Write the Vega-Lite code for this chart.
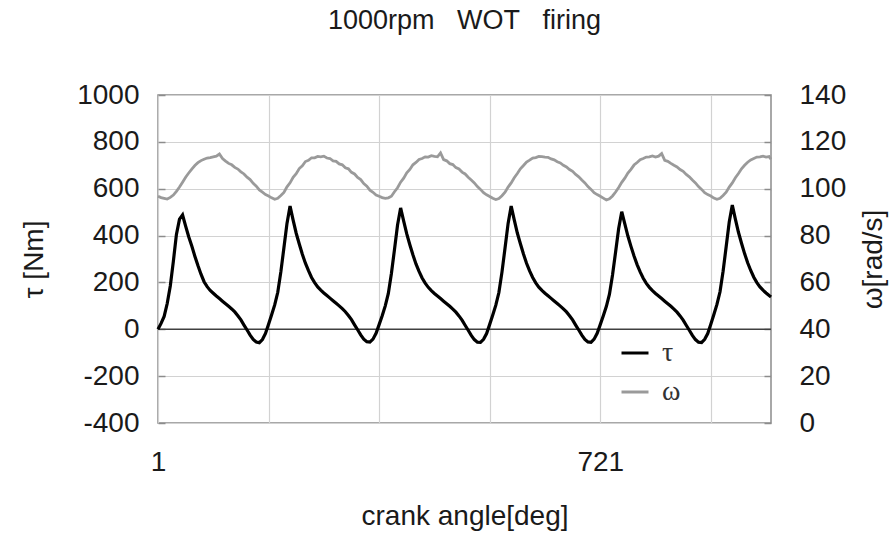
{
  "$schema": "https://vega.github.io/schema/vega-lite/v6.json",
  "width": 613,
  "height": 328,
  "autosize": "none",
  "padding": {"left": 158, "top": 95, "right": 122, "bottom": 112},
  "background": "white",
  "config": {
    "view": {"stroke": "#8c8c8c", "strokeWidth": 1.5},
    "font": "Liberation Sans",
    "axis": {"labelFont": "Liberation Sans", "titleFont": "Liberation Sans", "labelColor": "#1a1a1a", "titleColor": "#1a1a1a", "titleFontWeight": "normal"}
  },
  "title": {"text": "1000rpm\u00a0\u00a0\u00a0WOT\u00a0\u00a0\u00a0firing", "fontSize": 27, "font": "Liberation Sans", "fontWeight": "normal", "color": "#1a1a1a", "offset": 46, "anchor": "middle"},
  "data": {"values": [
    {"a":1,"t":0,"w":96.8},{"a":6,"t":25,"w":96.2},{"a":11,"t":55,"w":95.9},{"a":16,"t":110,"w":95.6},{"a":21,"t":185,"w":96.3},{"a":26,"t":290,"w":97.3},{"a":31,"t":405,"w":98.9},{"a":36,"t":470,"w":100.7},{"a":41,"t":488,"w":102.8},{"a":46,"t":440,"w":104.9},{"a":51,"t":395,"w":106.7},{"a":56,"t":355,"w":108.4},{"a":61,"t":312,"w":109.9},{"a":66,"t":272,"w":111.1},{"a":71,"t":235,"w":112.0},{"a":76,"t":203,"w":112.6},{"a":81,"t":182,"w":113.1},{"a":86,"t":166,"w":113.3},{"a":91,"t":154,"w":113.6},{"a":96,"t":142,"w":113.9},{"a":101,"t":131,"w":114.8},{"a":106,"t":120,"w":112.9},{"a":111,"t":109,"w":111.8},{"a":116,"t":98,"w":110.8},{"a":121,"t":87,"w":110.2},{"a":126,"t":74,"w":109.1},{"a":131,"t":58,"w":108.4},{"a":136,"t":40,"w":107.2},{"a":141,"t":18,"w":106.3},{"a":146,"t":-3,"w":104.9},{"a":151,"t":-25,"w":103.9},{"a":156,"t":-43,"w":102.3},{"a":161,"t":-54,"w":101.1},{"a":166,"t":-57,"w":99.5},{"a":171,"t":-44,"w":98.5},{"a":176,"t":-18,"w":97.5},
    {"a":181,"t":22,"w":96.9},{"a":186,"t":62,"w":96.1},{"a":191,"t":104,"w":95.5},{"a":196,"t":158,"w":95.9},{"a":201,"t":245,"w":97.1},{"a":206,"t":348,"w":98.4},{"a":211,"t":452,"w":100.8},{"a":216,"t":526,"w":102.5},{"a":221,"t":466,"w":104.9},{"a":226,"t":410,"w":106.4},{"a":231,"t":364,"w":108.6},{"a":236,"t":320,"w":109.8},{"a":241,"t":282,"w":111.6},{"a":246,"t":250,"w":112.1},{"a":251,"t":221,"w":113.2},{"a":256,"t":199,"w":113.2},{"a":261,"t":181,"w":113.8},{"a":266,"t":167,"w":113.6},{"a":271,"t":155,"w":113.9},{"a":276,"t":144,"w":113.1},{"a":281,"t":133,"w":112.9},{"a":286,"t":122,"w":111.9},{"a":291,"t":111,"w":111.7},{"a":296,"t":100,"w":110.6},{"a":301,"t":88,"w":110.2},{"a":306,"t":75,"w":108.9},{"a":311,"t":59,"w":108.5},{"a":316,"t":41,"w":107.0},{"a":321,"t":19,"w":106.3},{"a":326,"t":-2,"w":104.8},{"a":331,"t":-24,"w":103.9},{"a":336,"t":-42,"w":102.2},{"a":341,"t":-53,"w":101.1},{"a":346,"t":-55,"w":99.4},{"a":351,"t":-42,"w":98.5},{"a":356,"t":-17,"w":97.3},
    {"a":361,"t":20,"w":96.8},{"a":366,"t":58,"w":96.2},{"a":371,"t":100,"w":95.9},{"a":376,"t":153,"w":96.1},{"a":381,"t":238,"w":96.8},{"a":386,"t":340,"w":98.7},{"a":391,"t":445,"w":100.4},{"a":396,"t":518,"w":102.8},{"a":401,"t":462,"w":104.5},{"a":406,"t":407,"w":106.8},{"a":411,"t":361,"w":108.2},{"a":416,"t":318,"w":110.2},{"a":421,"t":279,"w":111.2},{"a":426,"t":247,"w":112.5},{"a":431,"t":219,"w":112.9},{"a":436,"t":197,"w":113.6},{"a":441,"t":179,"w":113.5},{"a":446,"t":165,"w":114.1},{"a":451,"t":153,"w":113.8},{"a":456,"t":142,"w":113.6},{"a":461,"t":131,"w":115.3},{"a":466,"t":120,"w":112.4},{"a":471,"t":109,"w":111.9},{"a":476,"t":98,"w":110.7},{"a":481,"t":86,"w":110.3},{"a":486,"t":73,"w":109.0},{"a":491,"t":57,"w":108.4},{"a":496,"t":39,"w":107.1},{"a":501,"t":17,"w":106.3},{"a":506,"t":-4,"w":104.9},{"a":511,"t":-26,"w":103.7},{"a":516,"t":-44,"w":102.5},{"a":521,"t":-55,"w":100.9},{"a":526,"t":-56,"w":99.7},{"a":531,"t":-43,"w":98.3},{"a":536,"t":-18,"w":97.4},
    {"a":541,"t":21,"w":96.7},{"a":546,"t":61,"w":95.9},{"a":551,"t":103,"w":95.4},{"a":556,"t":157,"w":95.8},{"a":561,"t":244,"w":97.0},{"a":566,"t":347,"w":98.5},{"a":571,"t":452,"w":100.7},{"a":576,"t":526,"w":102.5},{"a":581,"t":467,"w":104.7},{"a":586,"t":411,"w":106.5},{"a":591,"t":365,"w":108.5},{"a":596,"t":321,"w":109.9},{"a":601,"t":282,"w":111.4},{"a":606,"t":249,"w":112.2},{"a":611,"t":221,"w":113.1},{"a":616,"t":198,"w":113.3},{"a":621,"t":180,"w":113.8},{"a":626,"t":166,"w":113.7},{"a":631,"t":154,"w":113.5},{"a":636,"t":143,"w":113.4},{"a":641,"t":132,"w":112.7},{"a":646,"t":121,"w":112.3},{"a":651,"t":110,"w":111.5},{"a":656,"t":99,"w":111.0},{"a":661,"t":87,"w":110.0},{"a":666,"t":74,"w":109.3},{"a":671,"t":58,"w":108.2},{"a":676,"t":40,"w":107.4},{"a":681,"t":18,"w":106.1},{"a":686,"t":-3,"w":105.1},{"a":691,"t":-25,"w":103.7},{"a":696,"t":-43,"w":102.5},{"a":701,"t":-54,"w":100.9},{"a":706,"t":-56,"w":99.7},{"a":711,"t":-42,"w":98.3},{"a":716,"t":-17,"w":97.5},
    {"a":721,"t":20,"w":96.8},{"a":726,"t":58,"w":96.0},{"a":731,"t":98,"w":95.2},{"a":736,"t":150,"w":95.7},{"a":741,"t":232,"w":96.9},{"a":746,"t":330,"w":98.6},{"a":751,"t":430,"w":100.5},{"a":756,"t":502,"w":102.7},{"a":761,"t":450,"w":104.5},{"a":766,"t":398,"w":106.7},{"a":771,"t":354,"w":108.3},{"a":776,"t":313,"w":110.1},{"a":781,"t":276,"w":111.2},{"a":786,"t":245,"w":112.4},{"a":791,"t":218,"w":112.9},{"a":796,"t":196,"w":113.5},{"a":801,"t":179,"w":113.6},{"a":806,"t":165,"w":114.0},{"a":811,"t":153,"w":113.5},{"a":816,"t":142,"w":113.9},{"a":821,"t":131,"w":115.0},{"a":826,"t":120,"w":112.1},{"a":831,"t":109,"w":111.7},{"a":836,"t":98,"w":110.8},{"a":841,"t":86,"w":110.0},{"a":846,"t":73,"w":109.3},{"a":851,"t":57,"w":108.2},{"a":856,"t":39,"w":107.4},{"a":861,"t":17,"w":106.1},{"a":866,"t":-4,"w":105.1},{"a":871,"t":-26,"w":103.7},{"a":876,"t":-44,"w":102.5},{"a":881,"t":-55,"w":100.9},{"a":886,"t":-57,"w":99.7},{"a":891,"t":-43,"w":98.3},{"a":896,"t":-18,"w":97.5},
    {"a":901,"t":22,"w":96.9},{"a":906,"t":63,"w":96.0},{"a":911,"t":106,"w":95.5},{"a":916,"t":160,"w":95.9},{"a":921,"t":248,"w":97.1},{"a":926,"t":352,"w":98.5},{"a":931,"t":458,"w":100.7},{"a":936,"t":530,"w":102.5},{"a":941,"t":470,"w":104.7},{"a":946,"t":414,"w":106.5},{"a":951,"t":367,"w":108.5},{"a":956,"t":323,"w":110.0},{"a":961,"t":284,"w":111.3},{"a":966,"t":251,"w":112.3},{"a":971,"t":222,"w":112.9},{"a":976,"t":199,"w":113.5},{"a":981,"t":181,"w":113.6},{"a":986,"t":167,"w":113.9},{"a":991,"t":155,"w":113.5},{"a":996,"t":144,"w":113.7},{"a":999,"t":138,"w":112.6}
  ]},
  "encoding": {
    "x": {
      "field": "a", "type": "quantitative",
      "scale": {"domain": [1, 999], "nice": false, "zero": false},
      "axis": {
        "values": [1, 181, 361, 541, 721, 901],
        "labelExpr": "datum.value == 1 || datum.value == 721 ? datum.label : ''",
        "ticks": false, "domain": false, "grid": true, "gridColor": "#d2d2d2", "gridWidth": 1.2,
        "labelFontSize": 28, "labelPadding": 25, "labelOverlap": false, "labelFlush": false,
        "title": "crank angle[deg]", "titleFontSize": 28, "titlePadding": 26
      }
    }
  },
  "layer": [
    {
      "layer": [
        {
          "data": {"values": [{"z": 0}]},
          "mark": {"type": "rule", "color": "#404040", "strokeWidth": 1.5},
          "encoding": {"y": {"field": "z", "type": "quantitative"}, "x": null}
        },
        {
          "mark": {"type": "line", "strokeWidth": 3.2},
          "encoding": {
            "y": {
              "field": "t", "type": "quantitative",
              "scale": {"domain": [-400, 1000], "nice": false, "zero": false},
              "axis": {
                "values": [-400, -200, 0, 200, 400, 600, 800, 1000],
                "labelExpr": "datum.value + ''",
                "grid": true, "gridColor": "#d2d2d2", "gridWidth": 1.2, "domain": false,
                "ticks": true, "tickSize": -7, "tickColor": "#8c8c8c", "tickWidth": 1.5,
                "labelFontSize": 28, "labelPadding": 26,
                "title": "τ [Nm]", "titleFontSize": 28, "titlePadding": 28
              }
            },
            "color": {
              "datum": "τ",
              "scale": {"domain": ["τ", "ω"], "range": ["#000000", "#9a9a9a"]},
              "legend": {
                "orient": "none", "legendX": 462, "legendY": 243, "title": null, "padding": 0,
                "symbolType": "stroke", "symbolSize": 729, "symbolStrokeWidth": 3,
                "labelFont": "Liberation Serif", "labelFontSize": 28, "labelColor": "#333333",
                "labelOffset": 12, "rowPadding": 10
              }
            }
          }
        }
      ]
    },
    {
      "mark": {"type": "line", "strokeWidth": 2.8},
      "encoding": {
        "y": {
          "field": "w", "type": "quantitative",
          "scale": {"domain": [0, 140], "nice": false, "zero": false},
          "axis": {
            "orient": "right",
            "values": [0, 20, 40, 60, 80, 100, 120, 140],
            "labelExpr": "datum.value + ''",
            "grid": false, "domain": false,
            "ticks": true, "tickSize": -7, "tickColor": "#8c8c8c", "tickWidth": 1.5,
            "labelFontSize": 28, "labelPadding": 35,
            "title": "ω[rad/s]", "titleFontSize": 28, "titleAngle": -90, "titlePadding": 42
          }
        },
        "color": {"datum": "ω"}
      }
    }
  ],
  "resolve": {"scale": {"y": "independent"}}
}
